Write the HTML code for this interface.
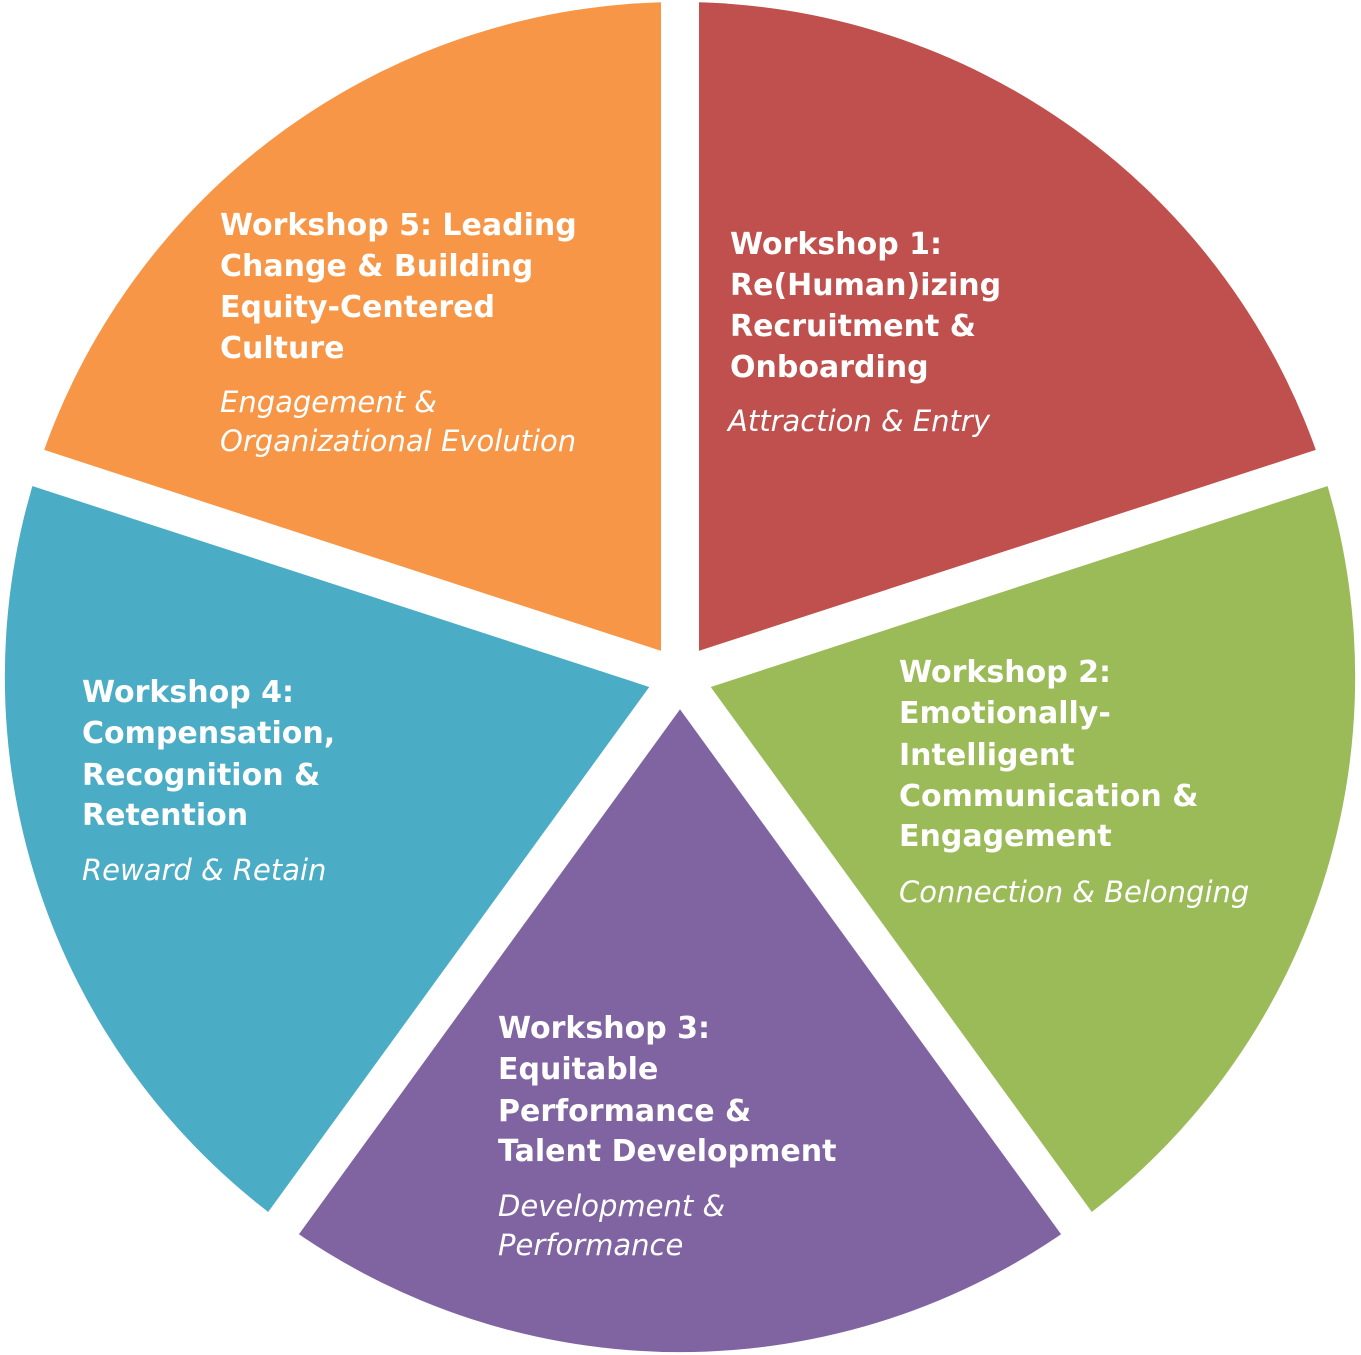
<!DOCTYPE html>
<html><head><meta charset="utf-8"><style>
html,body{margin:0;padding:0;background:#fff;}
svg{display:block;}
.b{font-family:"DejaVu Sans","Liberation Sans",sans-serif;font-weight:bold;font-size:30px;fill:#fff;}
.i{font-family:"DejaVu Sans","Liberation Sans",sans-serif;font-style:italic;font-size:29px;fill:#fff;}
</style></head><body>
<svg width="1361" height="1355" viewBox="0 0 1361 1355" xmlns="http://www.w3.org/2000/svg">
<g>
<path d="M680 677 L680 2 A675 675 0 0 1 1322 468 Z" fill="#C0504D"/>
<path d="M680 677 L1322 468 A675 675 0 0 1 1077 1223 Z" fill="#9BBB59"/>
<path d="M680 677 L1077 1223 A675 675 0 0 1 283 1223 Z" fill="#8064A2"/>
<path d="M680 677 L283 1223 A675 675 0 0 1 38 468 Z" fill="#4BACC6"/>
<path d="M680 677 L38 468 A675 675 0 0 1 680 2 Z" fill="#F79646"/>
</g>
<g stroke="#fff" stroke-width="38" stroke-linecap="butt">
<line x1="680" y1="677" x2="680" y2="-10"/>
<line x1="680" y1="677" x2="1340" y2="462"/>
<line x1="680" y1="677" x2="1088" y2="1239"/>
<line x1="680" y1="677" x2="272" y2="1239"/>
<line x1="680" y1="677" x2="20" y2="462"/>
</g>
<circle cx="680" cy="677" r="22" fill="#fff"/>
<text class="b" x="220" y="235">Workshop 5: Leading</text>
<text class="b" x="220" y="276">Change &amp; Building</text>
<text class="b" x="220" y="317">Equity-Centered</text>
<text class="b" x="220" y="358">Culture</text>
<text class="i" x="220" y="412">Engagement &amp;</text>
<text class="i" x="220" y="451">Organizational Evolution</text>

<text class="b" x="730" y="254">Workshop 1:</text>
<text class="b" x="730" y="295">Re(Human)izing</text>
<text class="b" x="730" y="336">Recruitment &amp;</text>
<text class="b" x="730" y="377">Onboarding</text>
<text class="i" x="728" y="431">Attraction &amp; Entry</text>

<text class="b" x="899" y="682">Workshop 2:</text>
<text class="b" x="899" y="723">Emotionally-</text>
<text class="b" x="899" y="765">Intelligent</text>
<text class="b" x="899" y="806">Communication &amp;</text>
<text class="b" x="899" y="846">Engagement</text>
<text class="i" x="899" y="902">Connection &amp; Belonging</text>

<text class="b" x="498" y="1038">Workshop 3:</text>
<text class="b" x="498" y="1079">Equitable</text>
<text class="b" x="498" y="1121">Performance &amp;</text>
<text class="b" x="498" y="1161">Talent Development</text>
<text class="i" x="498" y="1216">Development &amp;</text>
<text class="i" x="498" y="1255">Performance</text>

<text class="b" x="82" y="702">Workshop 4:</text>
<text class="b" x="82" y="743">Compensation,</text>
<text class="b" x="82" y="785">Recognition &amp;</text>
<text class="b" x="82" y="825">Retention</text>
<text class="i" x="82" y="880">Reward &amp; Retain</text>
</svg>
</body></html>
